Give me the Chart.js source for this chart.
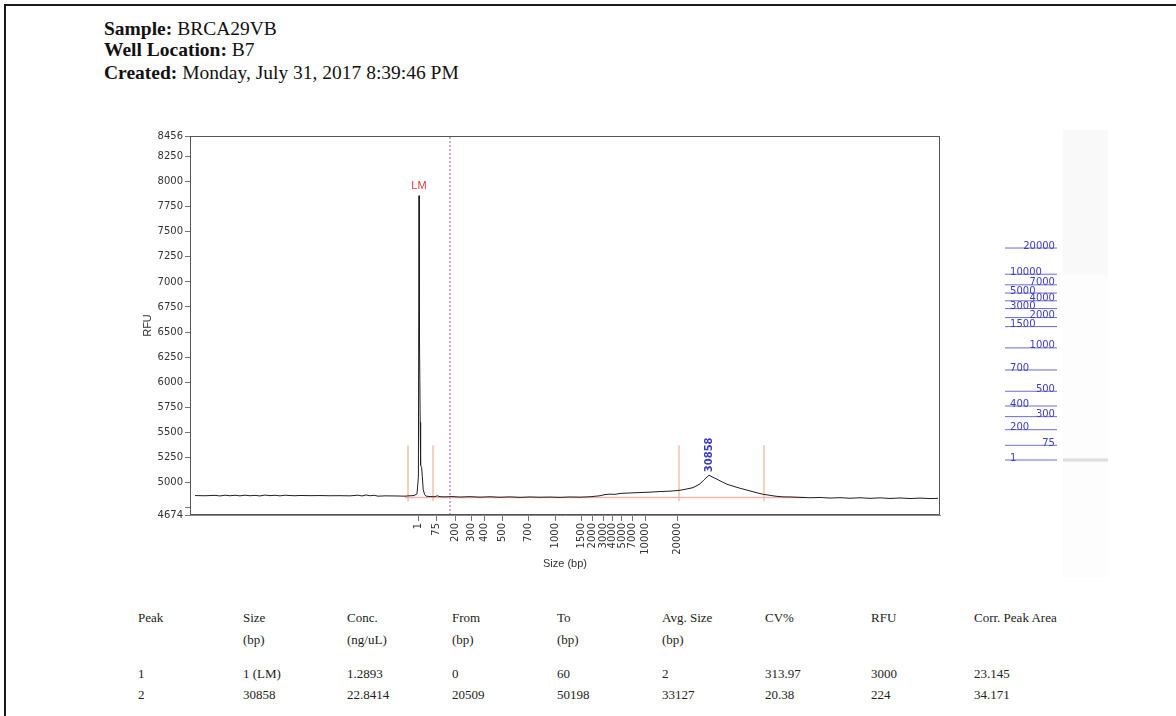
<!DOCTYPE html>
<html><head><meta charset="utf-8">
<script src="https://cdn.jsdelivr.net/npm/chart.js@4.4.0/dist/chart.umd.min.js"></script>
<style>
html,body{margin:0;padding:0;background:#fff;width:1176px;height:716px;overflow:hidden;position:relative;}
.frame{position:absolute;left:4px;top:4px;width:1200px;height:740px;border-top:2px solid #1a1a1a;border-left:2px solid #1a1a1a;}
.hdr{position:absolute;left:104px;font-family:"Liberation Serif",serif;font-size:19.5px;line-height:21px;color:#111;white-space:nowrap;}
.cell{position:absolute;font-family:"Liberation Serif",serif;font-size:13px;line-height:16px;color:#222;white-space:nowrap;}
canvas{position:absolute;}
</style></head>
<body>
<div class="frame"></div>
<div class="hdr" style="top:18px"><b>Sample:</b> BRCA29VB</div>
<div class="hdr" style="top:39px"><b>Well Location:</b> B7</div>
<div class="hdr" style="top:62px"><b>Created:</b> Monday, July 31, 2017 8:39:46 PM</div>
<canvas id="main" width="810" height="455" style="left:136px;top:120px;width:810px;height:455px"></canvas>
<canvas id="ladder" width="105" height="470" style="left:1005px;top:120px;width:105px;height:470px"></canvas>
<div id="table"></div>
<script>
// ---- data ----
const ladderSizes = [1, 75, 200, 300, 400, 500, 700, 1000, 1500, 2000, 3000, 4000, 5000, 7000, 10000, 20000];
const ladderPos   = [228, 246, 265, 281, 294, 312, 338, 365, 391, 402, 413, 422.5, 432, 442, 455, 487]; // migration units

const yTickValues = [4674, 4750, 5000, 5250, 5500, 5750, 6000, 6250, 6500, 6750, 7000, 7250, 7500, 7750, 8000, 8250, 8456];
const yTickLabels = ['4674', '', '5000', '5250', '5500', '5750', '6000', '6250', '6500', '6750', '7000', '7250', '7500', '7750', '8000', '8250', '8456'];

const traceX = [5, 15, 25, 30, 35, 40, 45, 50, 55, 60, 65, 70, 75, 80, 85, 90, 95, 100, 105, 110, 120, 130, 140, 150, 160, 168, 172, 176, 180, 184, 188, 195, 205, 215, 220, 224, 227, 228.4, 229, 229.5, 230.2, 230.6, 231.6, 232.3, 233.2, 234.5, 236, 240, 245, 247, 250, 255, 262, 270, 280, 290, 300, 310, 320, 330, 340, 350, 360, 370, 380, 390, 400, 410, 415, 420, 425, 430, 440, 450, 460, 470, 480, 485, 490, 496, 503, 510, 514, 519, 523, 527, 531, 537, 543, 550, 556, 560, 566, 573, 580, 586, 593, 600, 610, 620, 630, 640, 650, 660, 670, 680, 690, 700, 710, 720, 730, 740, 748];
const traceRFU = [4868, 4866, 4870, 4864, 4872, 4866, 4871, 4865, 4872, 4866, 4870, 4864, 4873, 4867, 4871, 4865, 4872, 4868, 4866, 4869, 4867, 4868, 4866, 4867, 4865, 4872, 4864, 4874, 4866, 4871, 4862, 4865, 4864, 4862, 4866, 4868, 4885, 5050, 7860, 6400, 5600, 5170, 5150, 5060, 4930, 4880, 4862, 4858, 4856, 4866, 4857, 4855, 4858, 4853, 4857, 4852, 4856, 4851, 4855, 4850, 4854, 4851, 4853, 4850, 4854, 4852, 4856, 4866, 4878, 4882, 4880, 4889, 4894, 4898, 4902, 4908, 4912, 4916, 4921, 4932, 4947, 4984, 5025, 5071, 5050, 5031, 5010, 4981, 4962, 4941, 4925, 4914, 4898, 4881, 4870, 4861, 4855, 4854, 4850, 4846, 4849, 4843, 4847, 4841, 4846, 4840, 4845, 4839, 4844, 4838, 4843, 4838, 4840];

const peakLabels = ['LM', '30858'];
const peakPos    = [229, 519];
const peakRFU    = [7860, 5071];
const peakFrom   = [218, 489];
const peakTo     = [243, 574];
const boundLow = 4810, boundHigh = 5370;
const baselineFrom = 215, baselineTo = 615, baselineRFU = 4848;
const markerPos = 260;

const tableHeaders = ['Peak', 'Size', 'Conc.', 'From', 'To', 'Avg. Size', 'CV%', 'RFU', 'Corr. Peak Area'];
const tableUnits   = ['', '(bp)', '(ng/uL)', '(bp)', '(bp)', '(bp)', '', '', ''];
const tableRow1    = ['1', '1 (LM)', '1.2893', '0', '60', '2', '313.97', '3000', '23.145'];
const tableRow2    = ['2', '30858', '22.8414', '20509', '50198', '33127', '20.38', '224', '34.171'];

// ---- table ----
const colX = [138, 243, 347, 452, 557, 662, 765, 871, 974];
const rowTop = [610, 632, 666, 687];
const tbl = document.getElementById('table');
[tableHeaders, tableUnits, tableRow1, tableRow2].forEach((row, r) => {
  row.forEach((txt, c) => {
    if (!txt) return;
    const d = document.createElement('div');
    d.className = 'cell';
    d.style.left = colX[c] + 'px';
    d.style.top = rowTop[r] + 'px';
    d.textContent = txt;
    tbl.appendChild(d);
  });
});

// ---- main chart ----
const seg = (x1, y1, x2, y2) => [{x: x1, y: y1}, {x: x2, y: y2}];
const datasets = [{
  data: traceX.map((x, i) => ({x, y: traceRFU[i]})),
  borderColor: '#1e1e1e', borderWidth: 1, pointRadius: 0, tension: 0
}, {
  data: seg(baselineFrom, baselineRFU, baselineTo, baselineRFU),
  borderColor: '#f4b4ae', borderWidth: 1.5, pointRadius: 0
}];
peakFrom.forEach((f, i) => {
  datasets.push({data: seg(f, boundLow, f, boundHigh), borderColor: '#eba27e', borderWidth: 1, pointRadius: 0});
  datasets.push({data: seg(peakTo[i], boundLow, peakTo[i], boundHigh), borderColor: '#eba27e', borderWidth: 1, pointRadius: 0});
});
datasets.push({data: seg(markerPos, 4674, markerPos, 8456), borderColor: '#a64ca6', borderWidth: 1, borderDash: [2, 2], pointRadius: 0});

const framePlugin = {
  id: 'frame',
  afterDatasetsDraw(chart) {
    const {ctx, chartArea: a, scales: {x, y}} = chart;
    ctx.save();
    ctx.strokeStyle = '#555';
    ctx.lineWidth = 1;
    ctx.strokeRect(Math.round(a.left) + 0.5, Math.round(a.top) + 0.5, Math.round(a.right - a.left) - 1, Math.round(a.bottom - a.top) - 1);
    // peak labels
    const px0 = x.getPixelForValue(peakPos[0]), py0 = y.getPixelForValue(peakRFU[0]);
    ctx.fillStyle = '#e23b3b';
    ctx.font = '11px "Liberation Sans", sans-serif';
    ctx.textAlign = 'center';
    ctx.textBaseline = 'bottom';
    ctx.fillText(peakLabels[0], px0, py0 - 4);
    const px1 = x.getPixelForValue(peakPos[1]), py1 = y.getPixelForValue(peakRFU[1]);
    ctx.translate(px1, py1 - 3);
    ctx.rotate(-Math.PI / 2);
    ctx.fillStyle = '#3b3bc4';
    ctx.font = 'bold 10px "DejaVu Sans", sans-serif';
    ctx.textAlign = 'left';
    ctx.textBaseline = 'middle';
    ctx.fillText(peakLabels[1], 0, 0);
    ctx.restore();
  }
};

new Chart(document.getElementById('main'), {
  type: 'line',
  data: {datasets},
  options: {
    responsive: false, animation: false, devicePixelRatio: 1,
    layout: {padding: {top: 16, right: 6, left: 0, bottom: 0}},
    plugins: {legend: {display: false}, tooltip: {enabled: false}},
    scales: {
      x: {
        type: 'linear', min: 0, max: 750,
        afterBuildTicks: s => { s.ticks = ladderPos.map(v => ({value: v})); },
        afterFit: s => { s.height = 60; },
        ticks: {
          autoSkip: false, minRotation: 90, maxRotation: 90, padding: 2,
          color: '#333', font: {family: 'DejaVu Sans', size: 10},
          callback: v => { const i = ladderPos.indexOf(v); return i >= 0 ? String(ladderSizes[i]) : ''; }
        },
        grid: {display: true, drawOnChartArea: false, tickLength: 6, color: '#777'},
        border: {display: true, color: '#888'},
        title: {display: true, text: 'Size (bp)', color: '#333', font: {family: 'Liberation Sans', size: 11}, padding: {top: 4, bottom: 4}}
      },
      y: {
        type: 'linear', min: 4674, max: 8456,
        afterBuildTicks: s => { s.ticks = yTickValues.map(v => ({value: v})); },
        afterFit: s => { s.width = 54; },
        ticks: {
          autoSkip: false, padding: 2, color: '#333', font: {family: 'DejaVu Sans', size: 10},
          callback: v => { const i = yTickValues.indexOf(v); return i >= 0 ? yTickLabels[i] : ''; }
        },
        grid: {display: true, drawOnChartArea: false, tickLength: 5, color: '#777'},
        border: {display: true, color: '#888'},
        title: {display: true, text: 'RFU', color: '#333', font: {family: 'Liberation Sans', size: 11}, padding: {top: 5, bottom: 4}}
      }
    }
  },
  plugins: [framePlugin]
});

// ---- ladder / gel panel ----
const laneFrom = 55, laneTo = 98, lineTo = 49.5;
const ladderSets = ladderPos.map(p => ({data: seg(0, p, lineTo, p), borderColor: '#6b6bcf', borderWidth: 1, pointRadius: 0}));
ladderSets.push({data: seg(laneFrom, ladderPos[0], laneTo, ladderPos[0]), borderColor: '#dedede', borderWidth: 3, pointRadius: 0});

const gelPlugin = {
  id: 'gel',
  beforeDatasetsDraw(chart) {
    const {ctx, chartArea: a, scales: {x}} = chart;
    const l = x.getPixelForValue(laneFrom), r = x.getPixelForValue(laneTo);
    ctx.save();
    ctx.fillStyle = '#fdfdfd';
    ctx.fillRect(l, a.top + 10, r - l, a.bottom - a.top - 22);
    ctx.fillStyle = '#f9f9f9';
    ctx.fillRect(l, a.top + 10, r - l, 145);
    ctx.restore();
  },
  afterDatasetsDraw(chart) {
    const {ctx, scales: {x, y}} = chart;
    ctx.save();
    ctx.fillStyle = '#3d3dc8';
    ctx.font = '10px "DejaVu Sans", sans-serif';
    ctx.textBaseline = 'middle';
    ladderSizes.forEach((s, i) => {
      const py = y.getPixelForValue(ladderPos[i]) - 2;
      if (i % 2 === 0) { ctx.textAlign = 'left'; ctx.fillText(String(s), x.getPixelForValue(4.8), py); }
      else { ctx.textAlign = 'right'; ctx.fillText(String(s), x.getPixelForValue(47.6), py); }
    });
    ctx.restore();
  }
};

new Chart(document.getElementById('ladder'), {
  type: 'line',
  data: {datasets: ladderSets},
  options: {
    responsive: false, animation: false, devicePixelRatio: 1,
    layout: {padding: 0},
    plugins: {legend: {display: false}, tooltip: {enabled: false}},
    scales: {
      x: {type: 'linear', min: 0, max: 100, display: false},
      y: {type: 'linear', min: 69.2, max: 643.4, display: false}
    }
  },
  plugins: [gelPlugin]
});
</script>
</body></html>
